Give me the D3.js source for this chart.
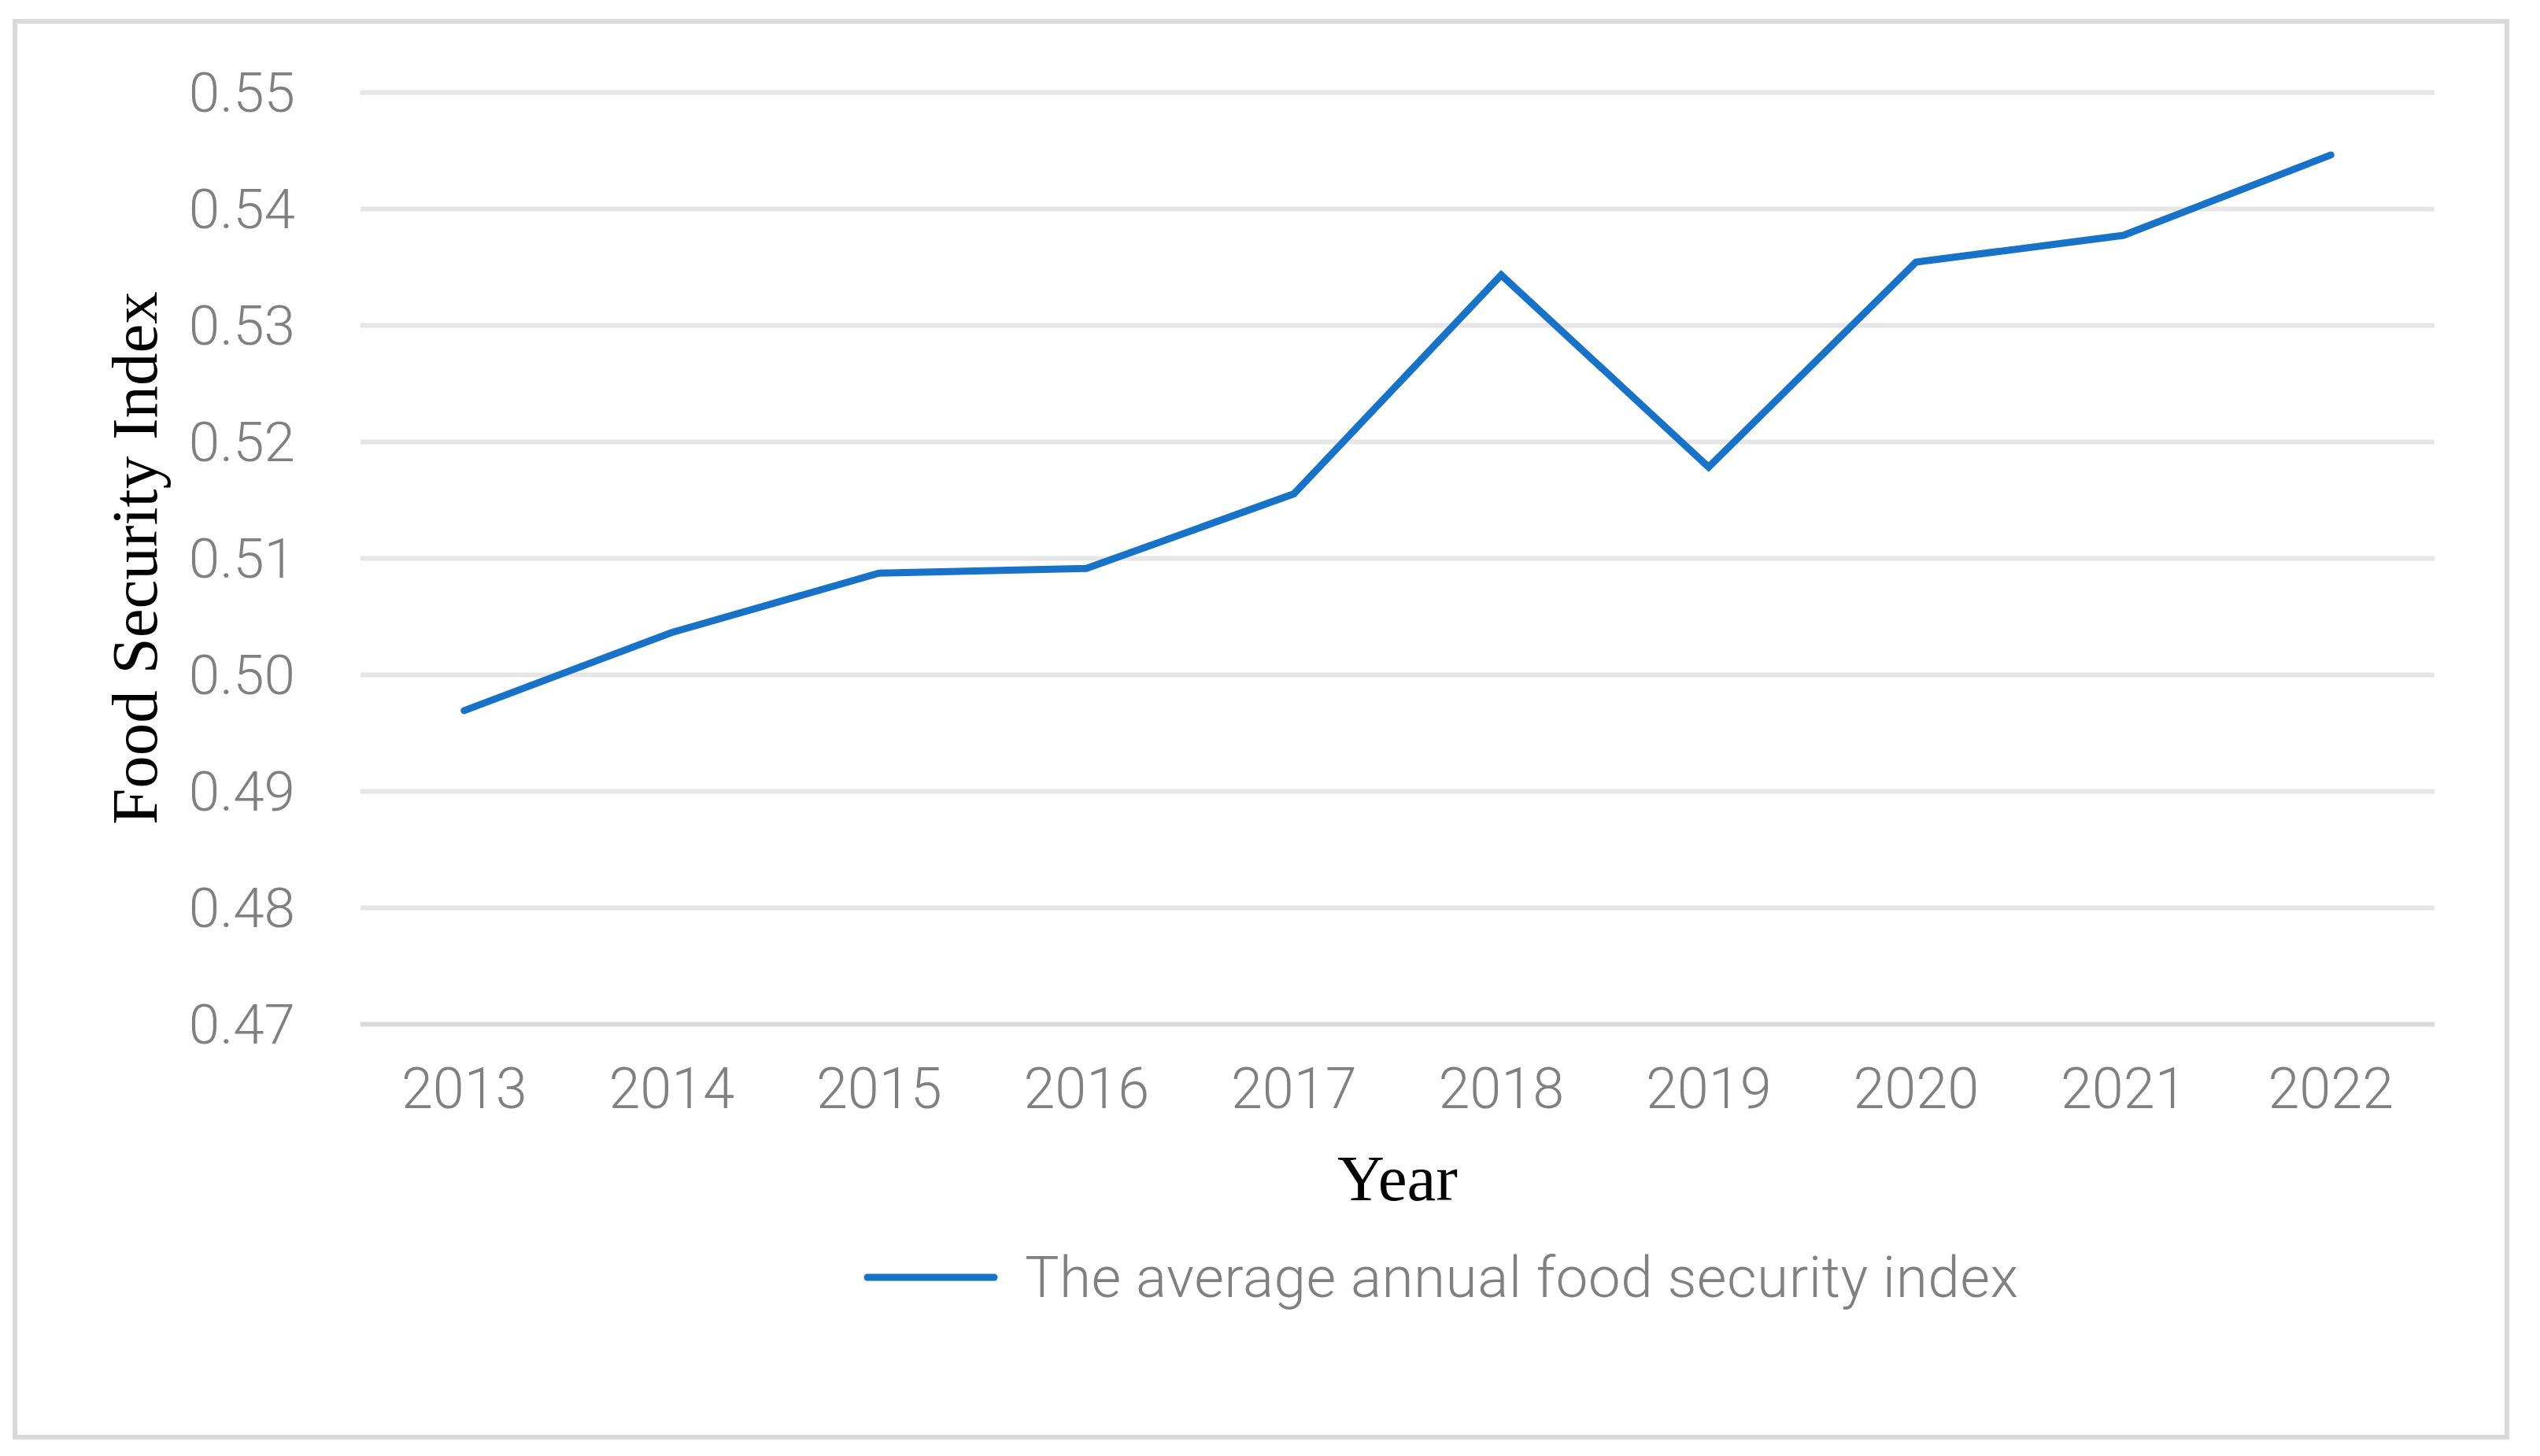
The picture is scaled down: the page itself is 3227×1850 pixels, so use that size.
<!DOCTYPE html>
<html>
<head>
<meta charset="utf-8">
<script src="https://cdn.jsdelivr.net/npm/d3@7"></script>
<style>
  html, body { margin: 0; padding: 0; background: #ffffff; }
  svg { display: block; }
</style>
</head>
<body>
<svg id="chart" width="3227" height="1850"></svg>
<script>
// ---- data ----
const years = ["2013", "2014", "2015", "2016", "2017", "2018", "2019", "2020", "2021", "2022"];
const foodSecurityIndex = [0.4969, 0.5036, 0.5087, 0.5091, 0.5155, 0.5343, 0.5178, 0.5354, 0.5377, 0.5446];
const yTickValues = [0.47, 0.48, 0.49, 0.50, 0.51, 0.52, 0.53, 0.54, 0.55];
const seriesName = "The average annual food security index";
const xTitle = "Year";
const yTitle = "Food Security Index";

// ---- layout ----
const W = 3227, H = 1850;
const plot = { left: 458, right: 3093, top: 117, bottom: 1301 };
const lineColor = "#1873C8";
const tickColor = "#808080";
const sansFont = "Roboto, 'Liberation Sans', Arial, sans-serif";
const serifFont = "'Liberation Serif', 'Times New Roman', serif";

const svg = d3.select("#chart");

svg.append("rect").attr("x", 0).attr("y", 0).attr("width", W).attr("height", H).attr("fill", "#fff");

// outer frame
svg.append("rect")
  .attr("x", 19).attr("y", 27)
  .attr("width", 3185 - 19).attr("height", 1826 - 27)
  .attr("fill", "none").attr("stroke", "#d9d9d9").attr("stroke-width", 6);

const x = d3.scaleBand().domain(years).range([plot.left, plot.right]);
const y = d3.scaleLinear().domain([0.47, 0.55]).range([plot.bottom, plot.top]);

// gridlines
const grid = svg.append("g").attr("transform", `translate(${plot.left},0)`)
  .call(d3.axisLeft(y).tickValues(yTickValues).tickSize(-(plot.right - plot.left)).tickFormat(""));
grid.select(".domain").remove();
grid.selectAll(".tick line")
  .attr("stroke", d => d === 0.47 ? "#d9d9d9" : "#e6e6e6")
  .attr("stroke-width", 6);

// y axis labels
const yAxis = svg.append("g").attr("transform", `translate(${plot.left},0)`)
  .call(d3.axisLeft(y).tickValues(yTickValues).tickSize(0).tickPadding(83).tickFormat(d3.format(".2f")));
yAxis.select(".domain").remove();
yAxis.selectAll("text")
  .attr("fill", tickColor)
  .attr("font-family", sansFont)
  .attr("font-weight", 300)
  .attr("font-size", 71)
  .attr("dy", "0.34em");

// x axis labels
const xAxis = svg.append("g").attr("transform", `translate(0,${plot.bottom})`)
  .call(d3.axisBottom(x).tickSize(0));
xAxis.select(".domain").remove();
xAxis.selectAll("text")
  .attr("fill", tickColor)
  .attr("font-family", sansFont)
  .attr("font-weight", 300)
  .attr("font-size", 72)
  .attr("y", 1408 - plot.bottom)
  .attr("dy", 0);

// line
const pts = years.map((yr, i) => ({ yr, v: foodSecurityIndex[i] }));
const line = d3.line()
  .x(d => x(d.yr) + x.bandwidth() / 2)
  .y(d => y(d.v));
svg.append("path")
  .datum(pts)
  .attr("d", line)
  .attr("fill", "none")
  .attr("stroke", lineColor)
  .attr("stroke-width", 9)
  .attr("stroke-linecap", "round")
  .attr("stroke-linejoin", "miter");

// axis titles
svg.append("text")
  .attr("x", (plot.left + plot.right) / 2)
  .attr("y", 1525)
  .attr("text-anchor", "middle")
  .attr("font-family", serifFont)
  .attr("font-size", 83)
  .attr("fill", "#000")
  .text(xTitle);

svg.append("text")
  .attr("transform", `translate(199,${(plot.top + plot.bottom) / 2}) rotate(-90)`)
  .attr("text-anchor", "middle")
  .attr("font-family", serifFont)
  .attr("font-size", 83)
  .attr("fill", "#000")
  .text(yTitle);

// legend
const legend = svg.append("g");
legend.append("line")
  .attr("x1", 1102).attr("x2", 1263)
  .attr("y1", 1623).attr("y2", 1623)
  .attr("stroke", lineColor)
  .attr("stroke-width", 9)
  .attr("stroke-linecap", "round");
legend.append("text")
  .attr("x", 1302).attr("y", 1648)
  .attr("font-family", sansFont)
  .attr("font-weight", 300)
  .attr("font-size", 73)
  .attr("fill", tickColor)
  .attr("textLength", 1262)
  .attr("lengthAdjust", "spacing")
  .text(seriesName);
</script>
</body>
</html>
